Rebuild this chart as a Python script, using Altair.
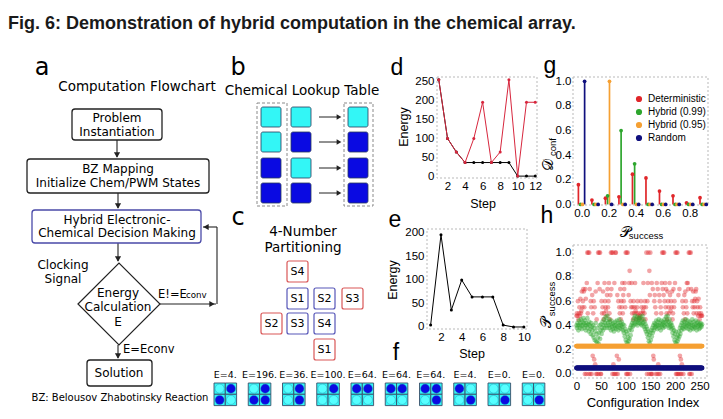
import altair as alt
import pandas as pd

# ---------------------------------------------------------------- data
TITLE = "Fig. 6: Demonstration of hybrid computation in the chemical array."

# panel d : energy per step (visited state, best so far)
d_step = [1, 2, 3, 4, 5, 6, 7, 8, 9, 10, 11, 12]
d_visited = [256, 100, 64, 36, 100, 196, 36, 64, 256, 0, 196, 196]
d_best = [256, 100, 64, 36, 36, 36, 36, 36, 36, 0, 0, 0]
d_xticks = [2, 4, 6, 8, 10, 12]
d_yticks = [0, 50, 100, 150, 200, 250]

# panel e
e_step = [1, 2, 3, 4, 5, 6, 7, 8, 9, 10]
e_energy = [4, 196, 36, 100, 64, 64, 64, 4, 0, 0]
e_xticks = [2, 4, 6, 8, 10]
e_yticks = [0, 50, 100, 150, 200]

# panel f : 2x2 states (TL, TR, BL, BR ; 1 = blue)
f_labels = ["E=4.", "E=196.", "E=36.", "E=100.", "E=64.", "E=64.", "E=64.", "E=4.", "E=0.", "E=0."]
f_states = ["0110", "0111", "0101", "0100", "1100", "1100", "1101", "1001", "0001", "0001"]

# panel b : lookup table (c = cyan, b = blue)
b_in1 = ["c", "c", "b", "b"]
b_in2 = ["c", "b", "c", "b"]
b_out = ["c", "b", "b", "b"]

# panel c
c_labels = ["S4", "S1", "S2", "S3", "S2", "S3", "S4", "S1"]
c_kinds = ["r", "b", "b", "r", "r", "b", "b", "r"]

# panel g : D_conf vs P_success
g_series = ["Deterministic", "Hybrid (0.99)", "Hybrid (0.95)", "Random"]
g_colors = ["#e0262a", "#2ea62e", "#f5a033", "#10107e"]
g_bins = [0.0, 0.1, 0.2, 0.3, 0.4, 0.5, 0.6, 0.7, 0.8, 0.9]
g_det = [0.16, 0.035, 0.05, 0.062, 0.245, 0.215, 0.108, 0.07, 0.013, 0.054]
g_h99 = [0.0, 0.0, 0.07, 0.60, 0.33, 0.0, 0.0, 0.0, 0.0, 0.0]
g_h95 = [0.0, 0.0, 1.0, 0.0, 0.0, 0.0, 0.0, 0.0, 0.0, 0.0]
g_rand = [1.0, 0.0, 0.0, 0.0, 0.0, 0.0, 0.0, 0.0, 0.0, 0.0]
g_offsets = [-0.024, -0.008, 0.006, 0.022]
g_xticks = [0.0, 0.2, 0.4, 0.6, 0.8]
g_yticks = [0.0, 0.2, 0.4, 0.6, 0.8, 1.0]

# panel h : P_success per configuration
h_det = [
    0.48, 0.50, 0.48, 0.60, 0.45, 0.50, 0.55, 0.48, 0.62, 0.50, 0.52, 0.68, 0.55, 0.60, 0.70, 0.68,
    0.55, 0.00, 0.70, 0.62, 0.00, 0.75, 1.00, 0.50, 1.00, 0.00, 1.00, 0.70, 0.00, 0.60, 0.55, 0.00,
    0.65, 0.15, 0.50, 0.60, 0.12, 0.55, 0.08, 0.68, 0.00, 0.45, 0.00, 0.75, 1.00, 0.00, 1.00, 0.70,
    1.00, 0.00, 0.00, 0.60, 0.50, 0.55, 0.68, 0.45, 0.50, 0.75, 0.60, 0.55, 0.52, 0.48, 0.65, 0.70,
    0.55, 0.60, 0.75, 0.50, 0.45, 0.65, 1.00, 0.70, 1.00, 0.00, 1.00, 0.08, 0.00, 0.75, 0.00, 1.00,
    1.00, 0.00, 0.15, 0.65, 0.00, 0.60, 0.12, 0.55, 0.50, 0.70, 0.45, 0.60, 0.55, 0.75, 0.50, 0.65,
    0.60, 0.70, 0.75, 0.55, 1.00, 0.00, 1.00, 0.00, 1.00, 0.00, 0.65, 0.75, 0.85, 0.00, 0.60, 0.55,
    0.75, 0.50, 0.55, 0.45, 0.60, 0.50, 0.55, 0.75, 0.52, 0.50, 0.45, 0.55, 0.60, 0.50, 0.48, 0.46,
    0.46, 0.48, 0.50, 0.60, 0.55, 0.45, 0.50, 0.52, 0.75, 0.55, 0.50, 0.60, 0.45, 0.55, 1.00, 0.00,
    0.60, 0.75, 1.00, 0.00, 0.85, 0.65, 1.00, 0.00, 0.00, 0.75, 0.00, 0.70, 0.15, 0.12, 0.60, 0.65,
    0.55, 0.00, 0.50, 0.75, 0.00, 0.70, 0.08, 0.00, 0.65, 0.60, 0.00, 0.55, 0.50, 0.75, 1.00, 0.70,
    1.00, 0.65, 1.00, 0.60, 0.75, 0.55, 0.70, 0.50, 0.45, 0.68, 0.60, 0.55, 0.50, 0.75, 0.65, 0.52,
    0.60, 0.55, 0.68, 0.45, 0.50, 0.70, 0.55, 0.60, 0.75, 1.00, 0.00, 1.00, 0.00, 1.00, 0.00, 0.65,
    0.00, 0.70, 0.15, 0.00, 0.12, 0.00, 0.08, 0.60, 0.55, 0.00, 0.50, 0.65, 0.45, 0.68, 0.60, 0.55,
    0.75, 0.50, 0.75, 0.70, 1.00, 0.00, 1.00, 0.00, 1.00, 0.70, 0.00, 0.60, 0.55, 0.68, 0.50, 0.60,
    0.55, 0.62, 0.68, 0.70, 0.50, 0.60, 0.55, 0.48, 0.62, 0.50, 0.45, 0.55, 0.48, 0.50, 0.48, 0.48,
]
h_h99 = [
    0.40, 0.38, 0.42, 0.40, 0.36, 0.44, 0.40, 0.38, 0.42, 0.45, 0.40, 0.37, 0.43, 0.40, 0.46, 0.42,
    0.38, 0.44, 0.40, 0.36, 0.42, 0.40, 0.46, 0.38, 0.41, 0.35, 0.43, 0.40, 0.37, 0.33, 0.42, 0.39,
    0.36, 0.32, 0.40, 0.30, 0.38, 0.28, 0.35, 0.42, 0.27, 0.33, 0.26, 0.38, 0.30, 0.25, 0.34, 0.40,
    0.29, 0.36, 0.41, 0.33, 0.38, 0.43, 0.36, 0.40, 0.45, 0.38, 0.42, 0.47, 0.40, 0.44, 0.38, 0.48,
    0.42, 0.40, 0.45, 0.38, 0.43, 0.40, 0.36, 0.44, 0.39, 0.41, 0.37, 0.42, 0.35, 0.40, 0.38, 0.43,
    0.40, 0.37, 0.44, 0.39, 0.42, 0.36, 0.40, 0.45, 0.38, 0.42, 0.40, 0.37, 0.43, 0.39, 0.41, 0.36,
    0.34, 0.40, 0.31, 0.37, 0.28, 0.35, 0.26, 0.33, 0.25, 0.30, 0.27, 0.36, 0.29, 0.38, 0.32, 0.40,
    0.36, 0.42, 0.39, 0.44, 0.40, 0.46, 0.42, 0.48, 0.41, 0.45, 0.43, 0.47, 0.40, 0.44, 0.42, 0.46,
    0.45, 0.42, 0.47, 0.41, 0.44, 0.40, 0.48, 0.42, 0.45, 0.39, 0.43, 0.37, 0.41, 0.35, 0.39, 0.33,
    0.37, 0.30, 0.35, 0.27, 0.32, 0.25, 0.34, 0.28, 0.36, 0.31, 0.38, 0.34, 0.40, 0.36, 0.42, 0.38,
    0.41, 0.39, 0.44, 0.40, 0.37, 0.43, 0.40, 0.45, 0.38, 0.42, 0.40, 0.36, 0.44, 0.39, 0.41, 0.43,
    0.38, 0.42, 0.40, 0.45, 0.39, 0.43, 0.47, 0.41, 0.44, 0.48, 0.40, 0.43, 0.38, 0.45, 0.41, 0.39,
    0.42, 0.37, 0.40, 0.34, 0.38, 0.31, 0.36, 0.28, 0.33, 0.26, 0.35, 0.25, 0.30, 0.27, 0.32, 0.29,
    0.35, 0.31, 0.38, 0.33, 0.40, 0.36, 0.42, 0.38, 0.44, 0.40, 0.37, 0.43, 0.39, 0.41, 0.45, 0.38,
    0.42, 0.40, 0.44, 0.37, 0.41, 0.39, 0.43, 0.36, 0.40, 0.42, 0.38, 0.45, 0.40, 0.37, 0.43, 0.39,
    0.41, 0.38, 0.44, 0.40, 0.36, 0.42, 0.39, 0.43, 0.40, 0.37, 0.41, 0.38, 0.42, 0.40, 0.39, 0.41,
]
h_h95_level = 0.23
h_rand_level = 0.05
h_count = 256
h_xticks = [0, 50, 100, 150, 200, 250]
h_yticks = [0.0, 0.2, 0.4, 0.6, 0.8, 1.0]

# ---------------------------------------------------------------- layout helpers (page pixels)
W, H, M = 707, 405, 8
SANS = "DejaVu Sans"
ARIAL = "Liberation Sans"
CYAN = "#33f6f6"
BLUE = "#0a0ae2"
TICK = 11.5


def CX():
    return alt.Scale(domain=[M, M + W], range=[0, W], nice=False, zero=False)


def CY():
    return alt.Scale(domain=[M, M + H], range=[0, H], nice=False, zero=False)


def pos(xf="x", yf="y"):
    return dict(x=alt.X(f"{xf}:Q", scale=CX(), axis=None),
                y=alt.Y(f"{yf}:Q", scale=CY(), axis=None))


def text_layer(rows, size, font=SANS, align="center", baseline="middle", angle=0,
               weight="normal", color="black"):
    df = pd.DataFrame(rows, columns=["x", "y", "t"])
    kw = dict(fontSize=size, font=font, align=align, baseline=baseline,
              fontWeight=weight, color=color)
    if angle:
        kw["angle"] = angle
    return alt.Chart(df).mark_text(**kw).encode(text="t:N", **pos())


def rect_layer(df, **style):
    enc = pos()
    enc["x2"] = "x2:Q"
    enc["y2"] = "y2:Q"
    if "fill" in df.columns:
        enc["fill"] = alt.Fill("fill:N", scale=None)
    if "stroke" in df.columns:
        enc["stroke"] = alt.Stroke("stroke:N", scale=None)
    return alt.Chart(df).mark_rect(**style).encode(**enc)


def seg_layer(rows, color="#222222", width=1.1):
    df = pd.DataFrame(rows, columns=["x", "y", "x2", "y2"])
    enc = pos()
    enc["x2"] = "x2:Q"
    enc["y2"] = "y2:Q"
    return alt.Chart(df).mark_rule(color=color, strokeWidth=width).encode(**enc)


def head_layer(rows, size=38, color="#222222"):
    df = pd.DataFrame(rows, columns=["x", "y", "sh"])
    return alt.Chart(df).mark_point(filled=True, size=size, color=color, opacity=1).encode(
        shape=alt.Shape("sh:N", scale=None), **pos())


def lin(domain, lo, hi):
    return alt.Scale(domain=domain, range=[lo - M, hi - M], nice=False, zero=False)


def xaxis(values, ypage, fmt=None):
    kw = dict(values=values, orient="bottom", offset=(ypage - M) - H, domain=False,
              ticks=False, grid=False, labelFont=ARIAL, labelFontSize=TICK,
              labelColor="black", labelPadding=2, labelOverlap=False, title=None)
    if fmt:
        kw["format"] = fmt
    return alt.Axis(**kw)


def yaxis(values, xpage, fmt=None, pad=3):
    kw = dict(values=values, orient="left", offset=-(xpage - M), domain=False,
              ticks=False, grid=False, labelFont=ARIAL, labelFontSize=TICK,
              labelColor="black", labelPadding=pad, labelOverlap=False, title=None)
    if fmt:
        kw["format"] = fmt
    return alt.Axis(**kw)


layers = []

# ---------------------------------------------------------------- title
layers.append(text_layer([(8, 29, TITLE)], 18, font="Liberation Sans Narrow, Liberation Sans",
                         align="left", baseline="alphabetic", weight="bold", color="#1a1a1a"))

# panel letters
layers.append(text_layer([(42, 75, "a"), (238, 75, "b"), (238, 225, "c")], 24,
                         baseline="alphabetic"))
layers.append(text_layer([(397, 75, "d"), (395, 227, "e"), (396, 360, "f"),
                          (550, 73, "g"), (547, 223, "h")], 23, font=ARIAL,
                         baseline="alphabetic"))

# panel headings
layers.append(text_layer([(137, 87, "Computation Flowchart"), (302, 91, "Chemical Lookup Table"),
                          (303, 232, "4-Number"), (303, 248, "Partitioning")], 13.5))

# ---------------------------------------------------------------- panel a : flowchart
fc_boxes = pd.DataFrame(
    [(72, 109, 162, 140, "#222222"), (27, 159, 209, 193, "#222222"),
     (32, 210, 201, 243, "#4a4aa8"), (87, 360, 152, 386, "#222222")],
    columns=["x", "y", "x2", "y2", "stroke"])
layers.append(seg_layer([(117, 140, 117, 157), (118, 193, 118, 208), (118, 243, 118, 261),
                         (118, 345, 118, 358), (160, 304, 216, 304), (217, 304, 217, 227),
                         (217, 227, 203, 227)]))
layers.append(rect_layer(fc_boxes, fill="white", strokeWidth=1.3, cornerRadius=3))
layers.append(alt.Chart(pd.DataFrame({"x": [119], "y": [304]})).mark_point(
    shape="diamond", size=6724, filled=False, color="#222222", strokeWidth=1.2, opacity=1
).encode(**pos()))
layers.append(head_layer([(117, 155, "triangle-down"), (118, 206, "triangle-down"),
                          (118, 259, "triangle-down"), (118, 356, "triangle-down"),
                          (212, 304, "triangle-right"), (206, 227, "triangle-left")]))
layers.append(text_layer([(117, 118, "Problem"), (117, 132, "Instantiation"),
                          (118, 169, "BZ Mapping"), (118, 183, "Initialize Chem/PWM States"),
                          (117, 220, "Hybrid Electronic-"), (117, 233, "Chemical Decision Making"),
                          (118, 293, "Energy"), (118, 307, "Calculation"), (118, 322, "E"),
                          (63, 265, "Clocking"), (63, 279, "Signal"), (119, 373, "Solution")], 12))
layers.append(text_layer([(158, 298, "E!=E"), (123, 353, "E=Econv")], 11.5, align="left",
                         baseline="alphabetic"))
layers.append(text_layer([(186, 298, "conv")], 8.7, align="left", baseline="alphabetic"))
layers.append(text_layer([(120, 398, "BZ: Belousov Zhabotinsky Reaction")], 10))

# ---------------------------------------------------------------- panel b : lookup table
b_col_x = [261, 291, 348]
b_row_y = [107, 132, 158, 183]
SQ = 20
b_rows = []
for cx_, col in zip(b_col_x, [b_in1, b_in2, b_out]):
    for ry, k in zip(b_row_y, col):
        b_rows.append((cx_, ry, cx_ + SQ, ry + SQ, CYAN if k == "c" else BLUE))
layers.append(rect_layer(pd.DataFrame([(257, 103, 287, 206), (344, 103, 373, 206)],
                                      columns=["x", "y", "x2", "y2"]),
                         fill="white", fillOpacity=0, stroke="#8a8a8a", strokeWidth=1,
                         strokeDash=[3, 2]))
layers.append(rect_layer(pd.DataFrame(b_rows, columns=["x", "y", "x2", "y2", "fill"]),
                         stroke="#2a3a5a", strokeWidth=0.8, cornerRadius=2))
b_arrow_y = [r + SQ / 2 for r in b_row_y]
layers.append(seg_layer([(319, y, 339, y) for y in b_arrow_y], width=1))
layers.append(head_layer([(339, y, "triangle-right") for y in b_arrow_y], size=30))

# ---------------------------------------------------------------- panel c : partitioning
c_pos = [(287, 261), (287, 288), (314, 288), (342, 288), (261, 313), (287, 313), (314, 313),
         (314, 339)]
CB = 21
c_rows = [(x, y, x + CB, y + CB, "#d95757" if k == "r" else "#5656b8")
          for (x, y), k in zip(c_pos, c_kinds)]
layers.append(rect_layer(pd.DataFrame(c_rows, columns=["x", "y", "x2", "y2", "stroke"]),
                         fill="white", strokeWidth=1.2, cornerRadius=2))
layers.append(text_layer([(x + CB / 2, y + CB / 2 + 0.5, t) for (x, y), t in zip(c_pos, c_labels)],
                         11))

# ---------------------------------------------------------------- panel f : state grids
F_X0, F_DX, F_Y0, F_CELL = 214, 34.25, 383, 11.3
f_cells, f_dots = [], []
for k, st in enumerate(f_states):
    gx0 = F_X0 + k * F_DX
    for j, ch in enumerate(st):
        cx0 = gx0 + (j % 2) * F_CELL
        cy0 = F_Y0 + (j // 2) * F_CELL
        f_cells.append((cx0, cy0, cx0 + F_CELL, cy0 + F_CELL))
        f_dots.append((cx0 + F_CELL / 2, cy0 + F_CELL / 2, BLUE if ch == "1" else "#55ffff"))
layers.append(rect_layer(pd.DataFrame(f_cells, columns=["x", "y", "x2", "y2"]),
                         fill=CYAN, stroke="#3a4f6a", strokeWidth=0.9))
fd = pd.DataFrame(f_dots, columns=["x", "y", "fill"])
layers.append(alt.Chart(fd).mark_circle(size=82, opacity=1, stroke="#2a8fb0", strokeWidth=0.4).encode(
    fill=alt.Fill("fill:N", scale=None), **pos()))
layers.append(text_layer([(F_X0 + k * F_DX + F_CELL, 375, lab) for k, lab in enumerate(f_labels)],
                         9.5))

# ---------------------------------------------------------------- plot frames
frames = pd.DataFrame([(437, 77, 537, 178), (427, 229, 527, 329), (573, 77, 708, 205),
                       (573, 245, 707, 378)], columns=["x", "y", "x2", "y2"])
layers.append(rect_layer(frames, fill="white", fillOpacity=0, stroke="#b9b9b9",
                         strokeWidth=1, strokeDash=[2, 2]))

# ---------------------------------------------------------------- panel d
d_df = pd.DataFrame({"step": d_step, "visited": d_visited, "best": d_best})
dx = lin([0.8, 12.2], 437, 537)
dy = lin([-5, 263], 178, 77)
d_xax = xaxis(d_xticks, 178)
d_yax = yaxis(d_yticks, 437, pad=3)
d_best_l = alt.Chart(d_df).mark_line(
    color="black", strokeWidth=1,
    point=alt.OverlayMarkDef(size=9, color="black", filled=True)).encode(
    x=alt.X("step:Q", scale=dx, axis=d_xax), y=alt.Y("best:Q", scale=dy, axis=d_yax))
d_vis_l = alt.Chart(d_df).mark_line(
    color="#d7263d", strokeWidth=1,
    point=alt.OverlayMarkDef(size=9, color="#d7263d", filled=True)).encode(
    x=alt.X("step:Q", scale=dx, axis=d_xax), y=alt.Y("visited:Q", scale=dy, axis=d_yax))
layers.append(alt.layer(d_best_l, d_vis_l))
layers.append(text_layer([(404, 127, "Energy")], 12.5, font=ARIAL, angle=270))
layers.append(text_layer([(483, 204, "Step")], 12.5, font=ARIAL))

# ---------------------------------------------------------------- panel e
e_df = pd.DataFrame({"step": e_step, "energy": e_energy})
ex = lin([0.65, 10.3], 427, 527)
ey = lin([-4.3, 208.5], 329, 229)
layers.append(alt.Chart(e_df).mark_line(
    color="black", strokeWidth=1,
    point=alt.OverlayMarkDef(size=9, color="black", filled=True)).encode(
    x=alt.X("step:Q", scale=ex, axis=xaxis(e_xticks, 329)),
    y=alt.Y("energy:Q", scale=ey, axis=yaxis(e_yticks, 427, pad=3))))
layers.append(text_layer([(393, 280, "Energy")], 12.5, font=ARIAL, angle=270))
layers.append(text_layer([(472, 354, "Step")], 12.5, font=ARIAL))

# ---------------------------------------------------------------- shared colour / legend
LEG = alt.Legend(orient="none", legendX=626, legendY=86, title=None, symbolType="circle",
                 symbolSize=22, labelFont=ARIAL, labelFontSize=10, labelColor="black",
                 rowPadding=1, padding=0, symbolOpacity=1, labelOffset=4)
COLOR = alt.Color("series:N", scale=alt.Scale(domain=g_series, range=g_colors), legend=LEG)

# ---------------------------------------------------------------- panel g
g_rows = []
for s, vals, off in zip(g_series, [g_det, g_h99, g_h95, g_rand], g_offsets):
    for b, v in zip(g_bins, vals):
        g_rows.append({"series": s, "p": round(b + off, 4), "v": v, "z": 0.0})
g_df = pd.DataFrame(g_rows)
gx = lin([-0.064, 0.935], 573, 708)
gy = lin([-0.005, 1.035], 205, 77)
g_xax = xaxis(g_xticks, 205, ".1f")
g_yax = yaxis(g_yticks, 573, ".1f", pad=2)
g_rule = alt.Chart(g_df).mark_rule(strokeWidth=1.7).encode(
    x=alt.X("p:Q", scale=gx, axis=g_xax), y=alt.Y("v:Q", scale=gy, axis=g_yax),
    y2="z:Q", color=COLOR)
g_pts = alt.Chart(g_df).mark_circle(size=14, opacity=1).encode(
    x=alt.X("p:Q", scale=gx, axis=g_xax), y=alt.Y("v:Q", scale=gy, axis=g_yax), color=COLOR)
layers.append(alt.layer(g_rule, g_pts))
layers.append(text_layer([(548, 165, "𝒟")], 15, font="DejaVu Serif", angle=270))
layers.append(text_layer([(553, 147, "conf")], 9.5, font=ARIAL, angle=270))
layers.append(text_layer([(625, 232, "𝒫")], 15, font="DejaVu Serif"))
layers.append(text_layer([(646, 236, "success")], 9.5, font=ARIAL))

# ---------------------------------------------------------------- panel h
idx = list(range(h_count))
hx = lin([-7, 265], 573, 707)
hy = lin([-0.033, 1.063], 378, 245)
h_xax = xaxis(h_xticks, 378)
h_yax = yaxis(h_yticks, 573, ".1f", pad=2)
h_frames = [
    (pd.DataFrame({"i": idx, "v": h_det, "series": g_series[0]}), 0.42, 22),
    (pd.DataFrame({"i": idx, "v": h_h99, "series": g_series[1]}), 0.45, 22),
    (pd.DataFrame({"i": idx, "v": [h_h95_level] * h_count, "series": g_series[2]}), 1, 24),
    (pd.DataFrame({"i": idx, "v": [h_rand_level] * h_count, "series": g_series[3]}), 1, 24),
]
h_layers = []
for df, op, sz in h_frames:
    h_layers.append(alt.Chart(df).mark_circle(size=sz, opacity=op).encode(
        x=alt.X("i:Q", scale=hx, axis=h_xax), y=alt.Y("v:Q", scale=hy, axis=h_yax),
        color=COLOR))
layers.append(alt.layer(*h_layers))
layers.append(text_layer([(546, 322, "𝒫")], 15, font="DejaVu Serif", angle=270))
layers.append(text_layer([(552, 299, "success")], 9.5, font=ARIAL, angle=270))
layers.append(text_layer([(643, 403, "Configuration Index")], 13, font=ARIAL))

# ---------------------------------------------------------------- assemble
chart = (
    alt.layer(*layers)
    .resolve_scale(x="independent", y="independent")
    .resolve_axis(x="independent", y="independent")
    .properties(width=W, height=H, padding=0, autosize=alt.AutoSizeParams(type="none"),
                background="white")
    .configure_view(strokeWidth=0)
)

chart.save("out.html", embed_options={"renderer": "svg", "actions": False})
